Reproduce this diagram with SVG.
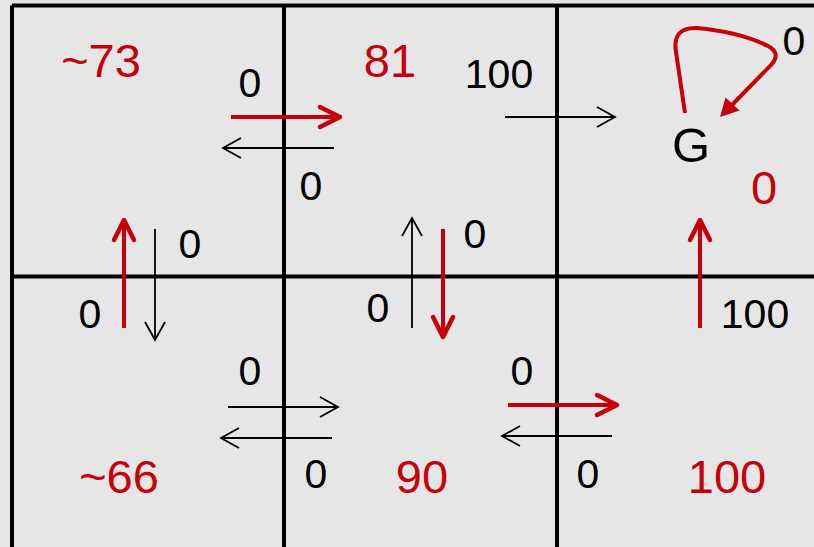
<svg xmlns="http://www.w3.org/2000/svg" width="814" height="547" viewBox="0 0 814 547">
<style>
.grid{fill:none;stroke:#000;stroke-width:4}
.bk{stroke:#000;stroke-width:1.8;fill:none}
.rd{stroke:#c8000a;stroke-width:4;fill:none}
.lb{font-family:"Liberation Sans",Arial,sans-serif;font-size:41px;fill:#000;text-anchor:middle}
.val{font-family:"Liberation Sans",Arial,sans-serif;font-size:47px;fill:#c8000a;text-anchor:middle}
</style>
<defs>
<marker id="hb" markerUnits="userSpaceOnUse" orient="auto" markerWidth="1" markerHeight="1" refX="0" refY="0" overflow="visible">
<path d="M-18,-10 L0,0 L-18,10" fill="none" stroke="#000" stroke-width="1.8" stroke-linejoin="miter"/>
</marker>
<marker id="hr" markerUnits="userSpaceOnUse" orient="auto" markerWidth="1" markerHeight="1" refX="0" refY="0" overflow="visible">
<path d="M-21,-10 L-1,0 L-21,10" fill="none" stroke="#c8000a" stroke-width="4.5" stroke-linejoin="round" stroke-linecap="round"/>
</marker>
</defs>
<rect width="814" height="547" fill="#e6e6e6"/>
<g id="grid">
<path class="grid" d="M12,5.5 H820 M12,276.5 H820 M12,5.5 V550 M284,5.5 V550 M557,5.5 V550"/>
</g>
<g id="connectors">
<line class="rd" x1="231" y1="117" x2="341" y2="117" marker-end="url(#hr)"/>
<line class="bk" x1="334" y1="148" x2="223" y2="148" marker-end="url(#hb)"/>
<line class="bk" x1="505" y1="117" x2="615" y2="117" marker-end="url(#hb)"/>
<line class="rd" x1="124" y1="328" x2="124" y2="219" marker-end="url(#hr)"/>
<line class="bk" x1="155" y1="229" x2="155" y2="340" marker-end="url(#hb)"/>
<line class="bk" x1="412" y1="328" x2="412" y2="218" marker-end="url(#hb)"/>
<line class="rd" x1="443" y1="229" x2="443" y2="338" marker-end="url(#hr)"/>
<line class="rd" x1="700" y1="328" x2="700" y2="219" marker-end="url(#hr)"/>
<line class="bk" x1="228" y1="407" x2="338" y2="407" marker-end="url(#hb)"/>
<line class="bk" x1="332" y1="438" x2="221" y2="438" marker-end="url(#hb)"/>
<line class="rd" x1="508" y1="405" x2="618" y2="405" marker-end="url(#hr)"/>
<line class="bk" x1="612" y1="436" x2="502" y2="436" marker-end="url(#hb)"/>
<path class="rd" d="M685,113 L676,52 Q672,27 697,28 Q740,32 768,46 Q781,53 772,64 L731,106"/>
<polygon points="720,117 725.5,97.5 739.5,110.5" fill="#c8000a"/>
</g>
<g id="s11"><text class="val" x="101" y="77">~73</text></g>
<g id="s12"><text class="val" x="390" y="77">81</text></g>
<g id="s13"><text x="691" y="162" font-family="Liberation Sans,Arial,sans-serif" font-size="49" text-anchor="middle" fill="#000">G</text><text class="val" x="764" y="204">0</text></g>
<g id="s21"><text class="val" x="119" y="493">~66</text></g>
<g id="s22"><text class="val" x="422" y="493">90</text></g>
<g id="s23"><text class="val" x="727" y="493">100</text></g>
<g id="labels">
<text class="lb" x="250" y="97">0</text>
<text class="lb" x="311" y="200">0</text>
<text class="lb" x="499" y="88">100</text>
<text class="lb" x="794" y="55">0</text>
<text class="lb" x="190" y="258">0</text>
<text class="lb" x="90" y="328">0</text>
<text class="lb" x="475" y="248">0</text>
<text class="lb" x="378" y="322">0</text>
<text class="lb" x="755" y="328">100</text>
<text class="lb" x="250" y="385">0</text>
<text class="lb" x="316" y="488">0</text>
<text class="lb" x="522" y="385">0</text>
<text class="lb" x="588" y="488">0</text>
</g>
</svg>
